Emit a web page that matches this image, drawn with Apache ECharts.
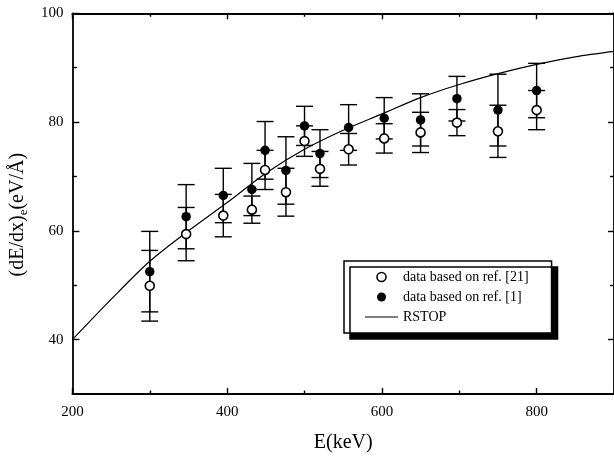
<!DOCTYPE html>
<html>
<head>
<meta charset="utf-8">
<script src="https://cdn.jsdelivr.net/npm/echarts@6/dist/echarts.min.js"></script>
<style>
html,body{margin:0;padding:0;background:#fff;}
#chart{width:614px;height:458px;}
</style>
</head>
<body>
<div id="chart"></div>
<script>
// Energy (keV) of measured points
var energies = [300, 347, 395, 432, 449, 476, 500, 520, 557, 603, 650, 697, 750, 800];
// data based on ref. [21] (open circles)
var openValues = [49.9, 59.4, 62.8, 63.9, 71.2, 67.1, 76.5, 71.4, 75.0, 77.0, 78.1, 79.9, 78.3, 82.2];
var openErrors = [6.5, 4.9, 3.9, 2.5, 3.6, 4.4, 2.8, 3.2, 2.9, 2.7, 3.7, 2.4, 4.8, 3.6];
// data based on ref. [1] (filled circles)
var filledValues = [52.5, 62.6, 66.5, 67.6, 74.8, 71.1, 79.3, 74.2, 79.0, 80.7, 80.4, 84.3, 82.2, 85.8];
var filledErrors = [7.4, 5.9, 5.0, 4.8, 5.3, 6.2, 3.6, 4.4, 4.2, 3.8, 4.8, 4.1, 6.6, 5.0];
// RSTOP curve
var rstopE = [200, 250, 300, 350, 400, 450, 500, 550, 600, 650, 700, 750, 800, 850, 900];
var rstopV = [40.0, 47.4, 54.4, 60.0, 65.2, 70.6, 75.0, 78.5, 81.5, 84.5, 86.9, 88.9, 90.6, 92.0, 93.0];
// y-axis tick labels (major) and intermediate ticks (minor)
var yMajorTicks = [40, 60, 80, 100];
var yMinorTicks = [50, 70, 90];

var seriesNames = ['data based on ref. [21]', 'data based on ref. [1]', 'RSTOP'];

function pairs(xs, ys) { return xs.map(function (x, i) { return [x, ys[i]]; }); }
function errData(xs, ys, es) { return xs.map(function (x, i) { return [x, ys[i] - es[i], ys[i] + es[i]]; }); }

function renderErr(params, api) {
  var x = api.value(0);
  var lo = api.coord([x, api.value(1)]);
  var hi = api.coord([x, api.value(2)]);
  var hw = 8.5;
  var st = { stroke: '#000', lineWidth: 1.4 };
  return {
    type: 'group',
    children: [
      { type: 'line', shape: { x1: lo[0], y1: lo[1], x2: hi[0], y2: hi[1] }, style: st },
      { type: 'line', shape: { x1: lo[0] - hw, y1: lo[1], x2: lo[0] + hw, y2: lo[1] }, style: st },
      { type: 'line', shape: { x1: hi[0] - hw, y1: hi[1], x2: hi[0] + hw, y2: hi[1] }, style: st }
    ]
  };
}

var serif = 'Liberation Serif';
var axisLine = { show: true, lineStyle: { color: '#000', width: 1.8 } };
var tickLine = { color: '#000', width: 1.4 };

function yTickAxis(position, values, len, withLine) {
  return {
    type: 'value', min: 30, max: 100, position: position,
    axisLine: withLine ? axisLine : { show: false },
    axisTick: { show: true, inside: true, length: len, customValues: values, lineStyle: tickLine },
    splitLine: { show: false },
    axisLabel: { show: false }
  };
}

var chart = echarts.init(document.getElementById('chart'), null, { renderer: 'canvas' });
var yMain = yTickAxis('left', yMajorTicks, 7, true);
yMain.axisLabel = { show: true, customValues: yMajorTicks, margin: 9, fontFamily: serif, fontSize: 15, color: '#000' };
yMain.name = '{a|(dE/dx)}{s|e}{a|(eV/Å)}';
yMain.nameLocation = 'middle';
yMain.nameRotate = 90;
yMain.nameGap = 40;
yMain.nameTextStyle = {
  color: '#000',
  padding: [0, 22, 0, 0],
  rich: {
    a: { fontFamily: serif, fontSize: 20, color: '#000', lineHeight: 24 },
    s: { fontFamily: serif, fontSize: 13, color: '#000', verticalAlign: 'bottom', lineHeight: 24 }
  }
};

chart.setOption({
  backgroundColor: '#fff',
  animation: false,
  grid: { left: 70.7, top: 13.3, right: -3, bottom: 59.5, containLabel: false },
  legend: {
    orient: 'vertical',
    left: 344, top: 261,
    padding: [9, 23, 9, 21],
    itemGap: 6,
    itemWidth: 33, itemHeight: 9,
    backgroundColor: '#fff',
    borderColor: '#000', borderWidth: 1.5,
    shadowColor: '#000', shadowBlur: 0, shadowOffsetX: 6, shadowOffsetY: 6,
    textStyle: { fontFamily: serif, fontSize: 14, color: '#000' },
    selectedMode: false,
    data: [
      { name: seriesNames[0], icon: 'circle', itemStyle: { color: '#fff', borderColor: '#000', borderWidth: 1.6 } },
      { name: seriesNames[1], icon: 'circle', itemStyle: { color: '#000' } },
      { name: seriesNames[2], icon: 'path://M0,0L33,0L33,1.2L0,1.2Z', itemStyle: { color: '#000', borderWidth: 0 } }
    ]
  },
  xAxis: [{
    type: 'value', min: 200, max: 900, interval: 200,
    axisLine: axisLine,
    axisTick: { show: true, inside: true, length: 6, lineStyle: tickLine },
    minorTick: { show: true, splitNumber: 2, length: 3.5, lineStyle: tickLine },
    splitLine: { show: false },
    axisLabel: { show: true, showMaxLabel: false, margin: 11, fontFamily: serif, fontSize: 15, color: '#000' },
    name: 'E(keV)', nameLocation: 'middle', nameGap: 39,
    nameTextStyle: { fontFamily: serif, fontSize: 20, color: '#000' }
  }, {
    type: 'value', min: 200, max: 900, interval: 200, position: 'top',
    axisLine: axisLine,
    axisTick: { show: true, inside: true, length: 6, lineStyle: tickLine },
    minorTick: { show: true, splitNumber: 2, length: 3.5, lineStyle: tickLine },
    splitLine: { show: false },
    axisLabel: { show: false }
  }],
  yAxis: [
    yMain,
    yTickAxis('right', yMajorTicks, 6, true),
    yTickAxis('left', yMinorTicks, 4.5, false),
    yTickAxis('right', yMinorTicks, 4, false)
  ],
  series: [
    {
      name: seriesNames[2], type: 'line', data: pairs(rstopE, rstopV), smooth: 0.3,
      symbol: 'none', lineStyle: { color: '#000', width: 1.2 }, itemStyle: { color: '#000' }, z: 2
    },
    {
      name: 'err21', type: 'custom', data: errData(energies, openValues, openErrors),
      renderItem: renderErr, encode: { x: 0, y: [1, 2] }, z: 3
    },
    {
      name: 'err1', type: 'custom', data: errData(energies, filledValues, filledErrors),
      renderItem: renderErr, encode: { x: 0, y: [1, 2] }, z: 3
    },
    {
      name: seriesNames[0], type: 'scatter', data: pairs(energies, openValues),
      symbol: 'circle', symbolSize: 9,
      itemStyle: { color: '#fff', borderColor: '#000', borderWidth: 1.6, opacity: 1 }, z: 4
    },
    {
      name: seriesNames[1], type: 'scatter', data: pairs(energies, filledValues),
      symbol: 'circle', symbolSize: 9.5,
      itemStyle: { color: '#000', opacity: 1 }, z: 5
    }
  ]
});
</script>
</body>
</html>
